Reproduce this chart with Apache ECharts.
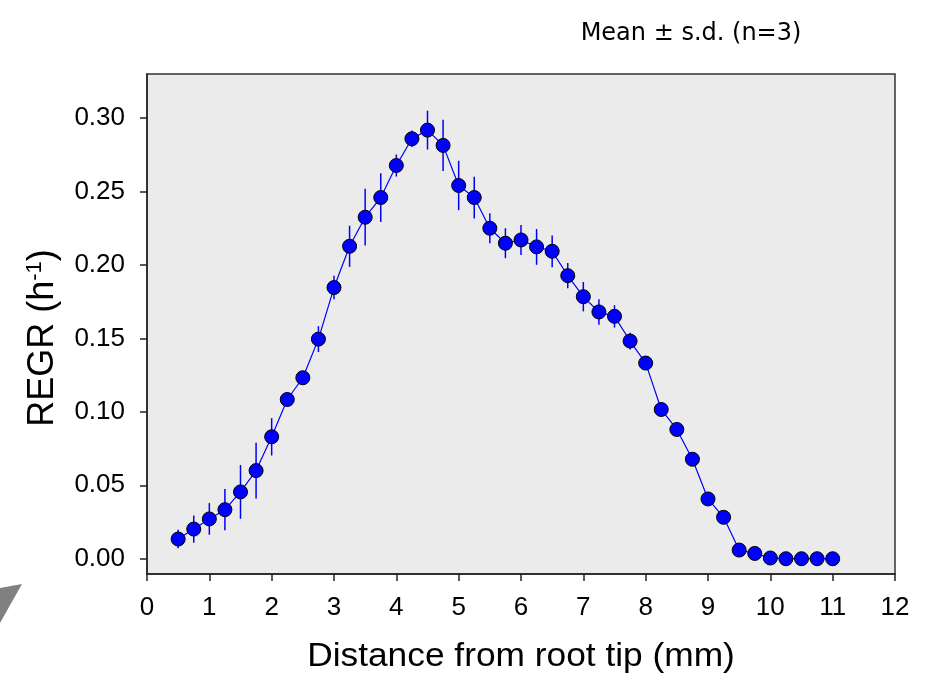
<!DOCTYPE html>
<html>
<head>
<meta charset="utf-8">
<script src="https://cdn.jsdelivr.net/npm/echarts@6/dist/echarts.min.js"></script>
<style>html,body{margin:0;padding:0;background:#fff;}#c{width:929px;height:675px;}</style>
</head>
<body>
<div id="c"></div>
<script>
const distances = [0.5,0.75,1.0,1.25,1.5,1.75,2.0,2.25,2.5,2.75,3.0,3.25,3.5,3.75,4.0,4.25,4.5,4.75,5.0,5.25,5.5,5.75,6.0,6.25,6.5,6.75,7.0,7.25,7.5,7.75,8.0,8.25,8.5,8.75,9.0,9.25,9.5,9.75,10.0,10.25,10.5,10.75,11.0];
const regrMean = [0.0134,0.0202,0.0271,0.0334,0.0455,0.060,0.083,0.1084,0.1232,0.1495,0.1846,0.2127,0.2325,0.2459,0.2677,0.2859,0.2918,0.2814,0.2541,0.2459,0.225,0.2148,0.217,0.2123,0.2093,0.1927,0.1784,0.168,0.165,0.1482,0.1332,0.1016,0.088,0.0677,0.0407,0.0282,0.0059,0.0036,0.0005,0,0,0,0];
const regrSD = [0.0063,0.0093,0.0108,0.0141,0.0183,0.019,0.0127,0.004,0.003,0.0088,0.008,0.014,0.0193,0.0166,0.0075,0.0056,0.0132,0.0175,0.0168,0.0142,0.0102,0.0102,0.0102,0.0122,0.0108,0.0086,0.01,0.0087,0.0076,0.0057,0.003,0.003,0.002,0.002,0.002,0.002,0.001,0,0,0,0,0,0];
const yTicks = [0,0.05,0.10,0.15,0.20,0.25,0.30];
const xTicks = [0,1,2,3,4,5,6,7,8,9,10,11,12];
const titleText = 'Mean \u00b1 s.d. (n=3)';
const xName = 'Distance from root tip (mm)';

const chart = echarts.init(document.getElementById('c'), null, {renderer:'canvas'});
const pts = distances.map((x,i)=>[x, regrMean[i]]);
const errs = distances.map((x,i)=>[x, regrMean[i]-regrSD[i], regrMean[i]+regrSD[i]]);
const font = 'Liberation Sans, Arial, sans-serif';

chart.setOption({
  animation:false,
  backgroundColor:'#ffffff',
  grid:{left:147, top:74, right:34, bottom:101, show:true, backgroundColor:'#EBEBEB', borderColor:'#333', borderWidth:1.5},
  xAxis:{
    type:'value', min:0, max:12, interval:1,
    axisLine:{show:true, onZero:false, lineStyle:{color:'#222', width:1.5}},
    axisTick:{show:true, inside:false, length:7, lineStyle:{color:'#222', width:1.5}},
    axisLabel:{show:true, margin:21, fontSize:26, color:'#000', fontFamily:font,
      formatter:v=> xTicks.includes(v)? String(v):''},
    splitLine:{show:false}
  },
  yAxis:{
    type:'value', min:-0.0104, max:0.33,
    axisLine:{show:true, onZero:false, lineStyle:{color:'#222', width:1.5}},
    axisTick:{show:true, inside:false, length:7, customValues:yTicks, lineStyle:{color:'#222', width:1.5}},
    axisLabel:{show:true, margin:22, fontSize:26, color:'#000', fontFamily:font, customValues:yTicks,
      formatter:v=>v.toFixed(2)},
    splitLine:{show:false}
  },
  graphic:[
    {type:'text', x:691, y:34, z:10, style:{text:titleText, fontSize:24, fontFamily:'DejaVu Sans, sans-serif', fill:'#000', align:'center', verticalAlign:'middle'}},
    {type:'text', x:43, y:338, rotation:Math.PI/2, z:10,
      style:{text:'{a|REGR (h}{s|-1}{a|)}', align:'center', verticalAlign:'middle',
        rich:{a:{fontSize:36, fontFamily:font, fill:'#000', color:'#000'}, s:{fontSize:22, fontFamily:font, fill:'#000', color:'#000', verticalAlign:'top', padding:[0,0,16,0]}}}},
    {type:'text', x:521, y:657, z:10, scaleX:1.07, style:{text:xName, fontSize:33, fontFamily:font, fill:'#000', align:'center', verticalAlign:'middle'}},
    {type:'polygon', z:10, shape:{points:[[0,588],[22,584],[0,623]]}, style:{fill:'#808080'}}
  ],
  series:[
    {
      type:'custom', z:2, clip:true,
      renderItem:function(params, api){
        const x = api.value(0);
        const p1 = api.coord([x, api.value(1)]);
        const p2 = api.coord([x, api.value(2)]);
        return {type:'line', shape:{x1:p1[0], y1:p1[1], x2:p2[0], y2:p2[1]}, style:{stroke:'#0000FF', lineWidth:1.5}};
      },
      encode:{x:0, y:[1,2]},
      data:errs
    },
    {
      type:'line', z:3, data:pts, symbol:'circle', symbolSize:14,
      itemStyle:{color:'#0000FF', borderColor:'#000', borderWidth:1},
      lineStyle:{color:'#0000FF', width:1.2}
    }
  ]
});
</script>
</body>
</html>
